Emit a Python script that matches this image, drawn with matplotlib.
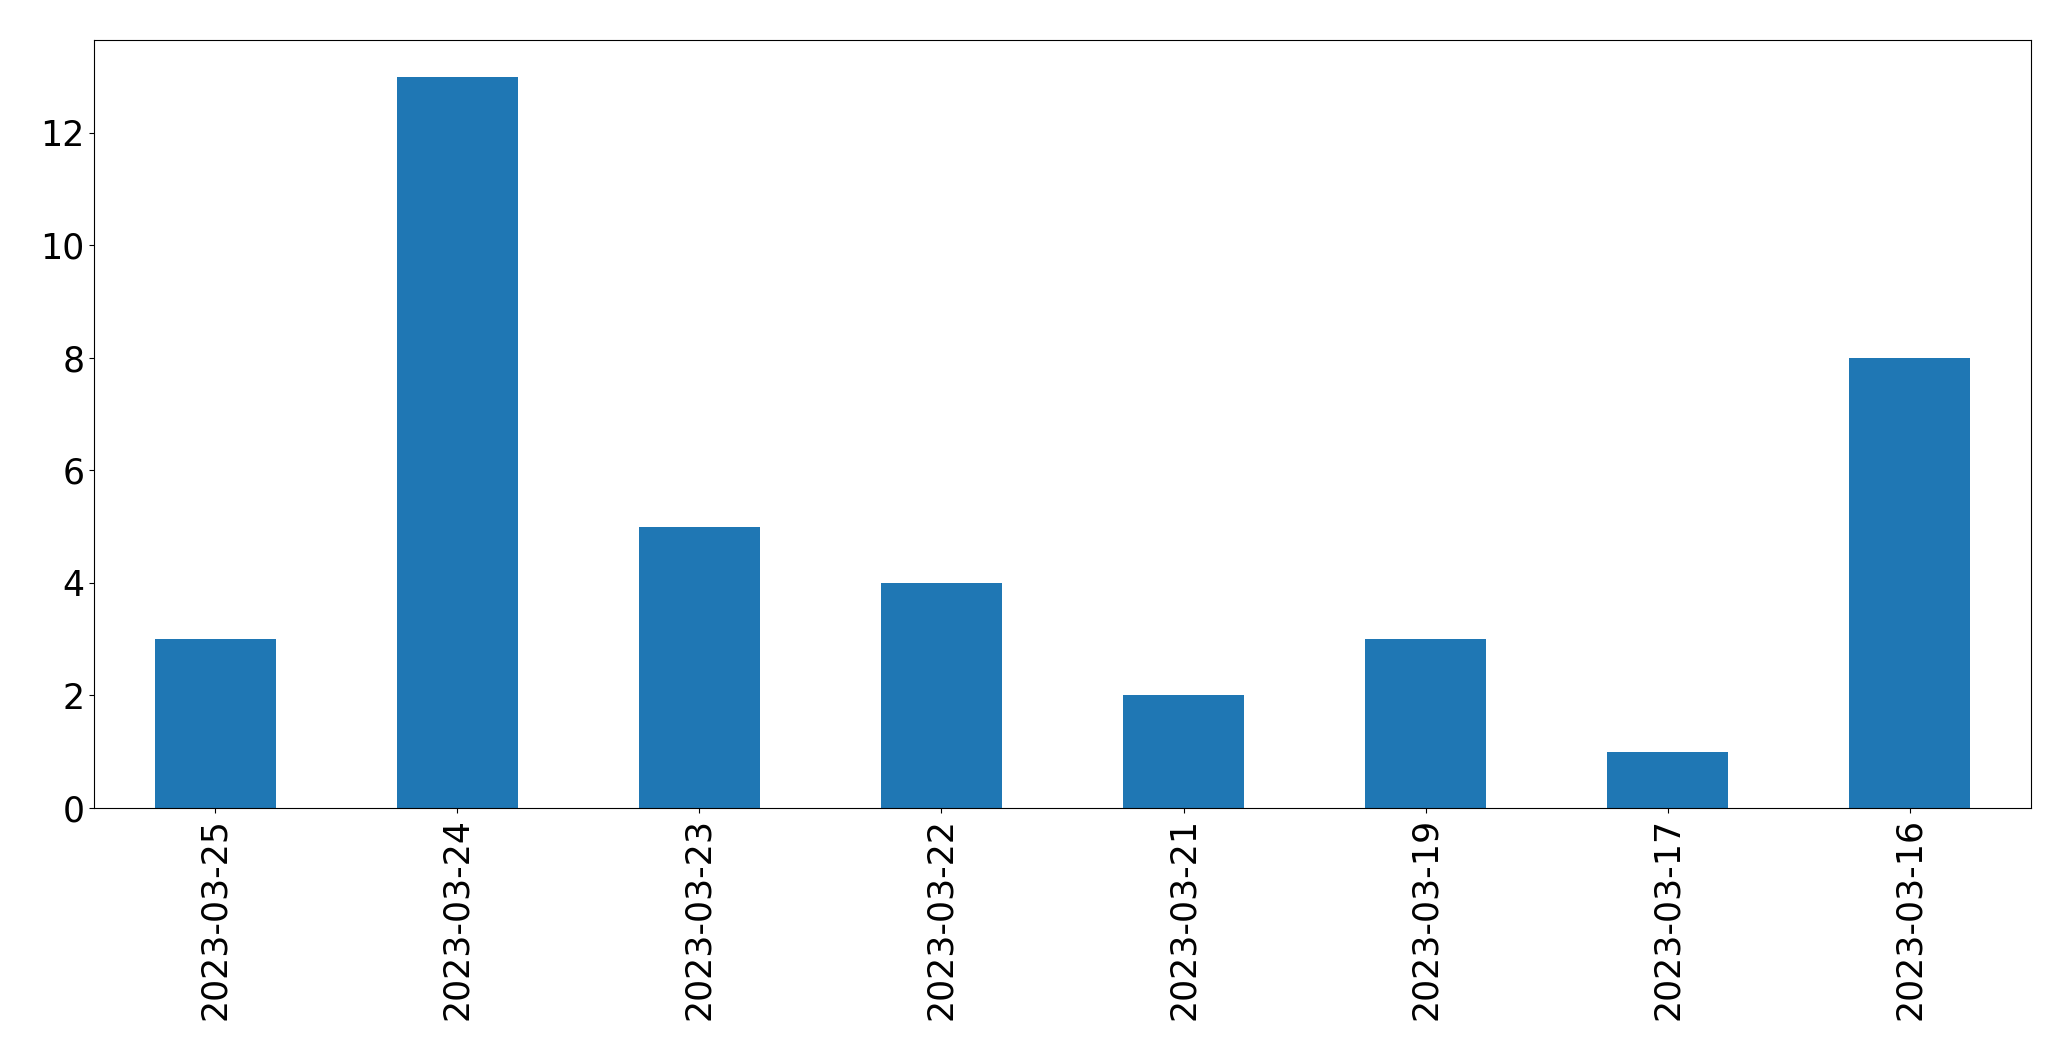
import matplotlib
matplotlib.use("Agg")
import matplotlib.pyplot as plt
import pandas as pd

dates = ["2023-03-25", "2023-03-24", "2023-03-23", "2023-03-22",
         "2023-03-21", "2023-03-19", "2023-03-17", "2023-03-16"]
counts = [3, 13, 5, 4, 2, 3, 1, 8]

s = pd.Series(counts, index=dates)

fig, ax = plt.subplots(figsize=(20.71, 10.61), dpi=100)
s.plot(kind="bar", ax=ax, color="#1f77b4", fontsize=25)
ax.tick_params(axis="both", labelsize=25)
fig.subplots_adjust(left=0.0454, right=0.9807, top=0.9623, bottom=0.2385)
fig.savefig("out.png", dpi=100)
